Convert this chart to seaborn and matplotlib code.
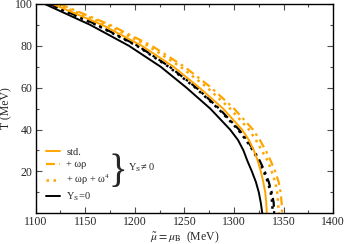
import matplotlib
matplotlib.use("Agg")
import matplotlib.pyplot as plt
from matplotlib.lines import Line2D
from matplotlib.ticker import MultipleLocator
import pandas as pd
import seaborn as sns

# temperature grid shared by all curves (MeV)
T = [100, 90, 80, 70, 60, 50, 40, 35, 30, 25, 20, 15, 10, 5, 0]

# chemical potential of the transition line at each T (MeV)
mu_std = [1117, 1167, 1207, 1239, 1265, 1289, 1308, 1315, 1320, 1324, 1327, 1329.5, 1331.5, 1332.5, 1333]
mu_wr = [1124, 1175, 1217, 1250, 1277, 1300, 1319, 1326, 1332, 1337, 1341.5, 1345, 1347, 1348, 1348.5]
mu_wr_w4 = [1121, 1172, 1213, 1246, 1273, 1296, 1315, 1322, 1328, 1334, 1338, 1341.5, 1343.5, 1344.5, 1345]
mu_ys0_std = [1109, 1155, 1194, 1226, 1252, 1276, 1296, 1304, 1309.5, 1313.5, 1318, 1322, 1325, 1327, 1328.5]
mu_ys0_wr = [1114, 1162, 1203, 1235, 1262, 1285, 1305, 1313, 1320, 1326, 1331, 1335, 1338, 1340, 1340.5]
mu_ys0_wr_w4 = [1113, 1161, 1202, 1234, 1261, 1284, 1304, 1312, 1319, 1325, 1330, 1334, 1337, 1338.5, 1339]

ORANGE = "#ffa500"
DASHDOT = (0, (4, 2, 1.2, 2))
DOTTED = (0, (1, 1.8))

series = [
    (mu_ys0_std, "black", "-", 1.4),
    (mu_ys0_wr, "black", DASHDOT, 1.6),
    (mu_ys0_wr_w4, "black", DOTTED, 1.8),
    (mu_std, ORANGE, "-", 1.4),
    (mu_wr, ORANGE, DASHDOT, 1.6),
    (mu_wr_w4, ORANGE, DOTTED, 1.8),
]

sns.set_style("ticks")
plt.rcParams["font.family"] = ["Liberation Serif", "DejaVu Serif"]
plt.rcParams["mathtext.fontset"] = "stix"
plt.rcParams["axes.linewidth"] = 1.0

fig = plt.figure(figsize=(3.46, 2.44), dpi=100)
ax = fig.add_axes([0.103, 0.126, 0.860, 0.858])

for mu, color, ls, lw in series:
    df = pd.DataFrame({"mu": mu, "T": T})
    sns.lineplot(data=df, x="mu", y="T", sort=False, estimator=None,
                 color=color, linestyle=ls, linewidth=lw, ax=ax)

ax.set_xlim(1100, 1400)
ax.set_ylim(0, 100)
ax.set_xticks([1100, 1150, 1200, 1250, 1300, 1350, 1400])
ax.xaxis.set_minor_locator(MultipleLocator(25))
ax.set_yticks([20, 40, 60, 80, 100])
ax.yaxis.set_minor_locator(MultipleLocator(10))
ax.tick_params(which="both", direction="in", top=True, right=True,
               labelsize=8.5, color="0.3")
ax.tick_params(which="major", length=4, width=0.8, pad=2)
ax.tick_params(which="minor", length=2.5, width=0.8)
for s in ax.spines.values():
    s.set_color("black")

ax.set_xlabel(r"$\tilde{\mu} = \mu_{\mathrm{B}}$  (MeV)", fontsize=8.5, labelpad=1)
ax.set_ylabel("T (MeV)", fontsize=8.5, labelpad=2)

handles = [
    Line2D([], [], color=ORANGE, lw=1.4, ls="-"),
    Line2D([], [], color=ORANGE, lw=1.6, ls=DASHDOT),
    Line2D([], [], color=ORANGE, lw=1.8, ls=DOTTED),
    Line2D([], [], color="black", lw=1.4, ls="-"),
]
labels = ["std.", "+ ωρ", "+ ωρ + ω$^4$", r"Y$_\mathrm{S}$=0"]
ax.legend(handles, labels, loc="lower left", bbox_to_anchor=(0.015, 0.02),
          frameon=False, fontsize=7.5, handlelength=1.3, handletextpad=0.6,
          labelspacing=0.3, borderaxespad=0.2)

# brace grouping the three Y_S != 0 entries
ax.text(1183, 19.5, "}", fontsize=28, ha="center", va="center",
        family=["Liberation Serif", "DejaVu Serif"])
ax.text(1193, 21.5, r"Y$_\mathrm{S}$≠ 0", fontsize=7.5, ha="left", va="center")

fig.savefig("out.png", dpi=100)
